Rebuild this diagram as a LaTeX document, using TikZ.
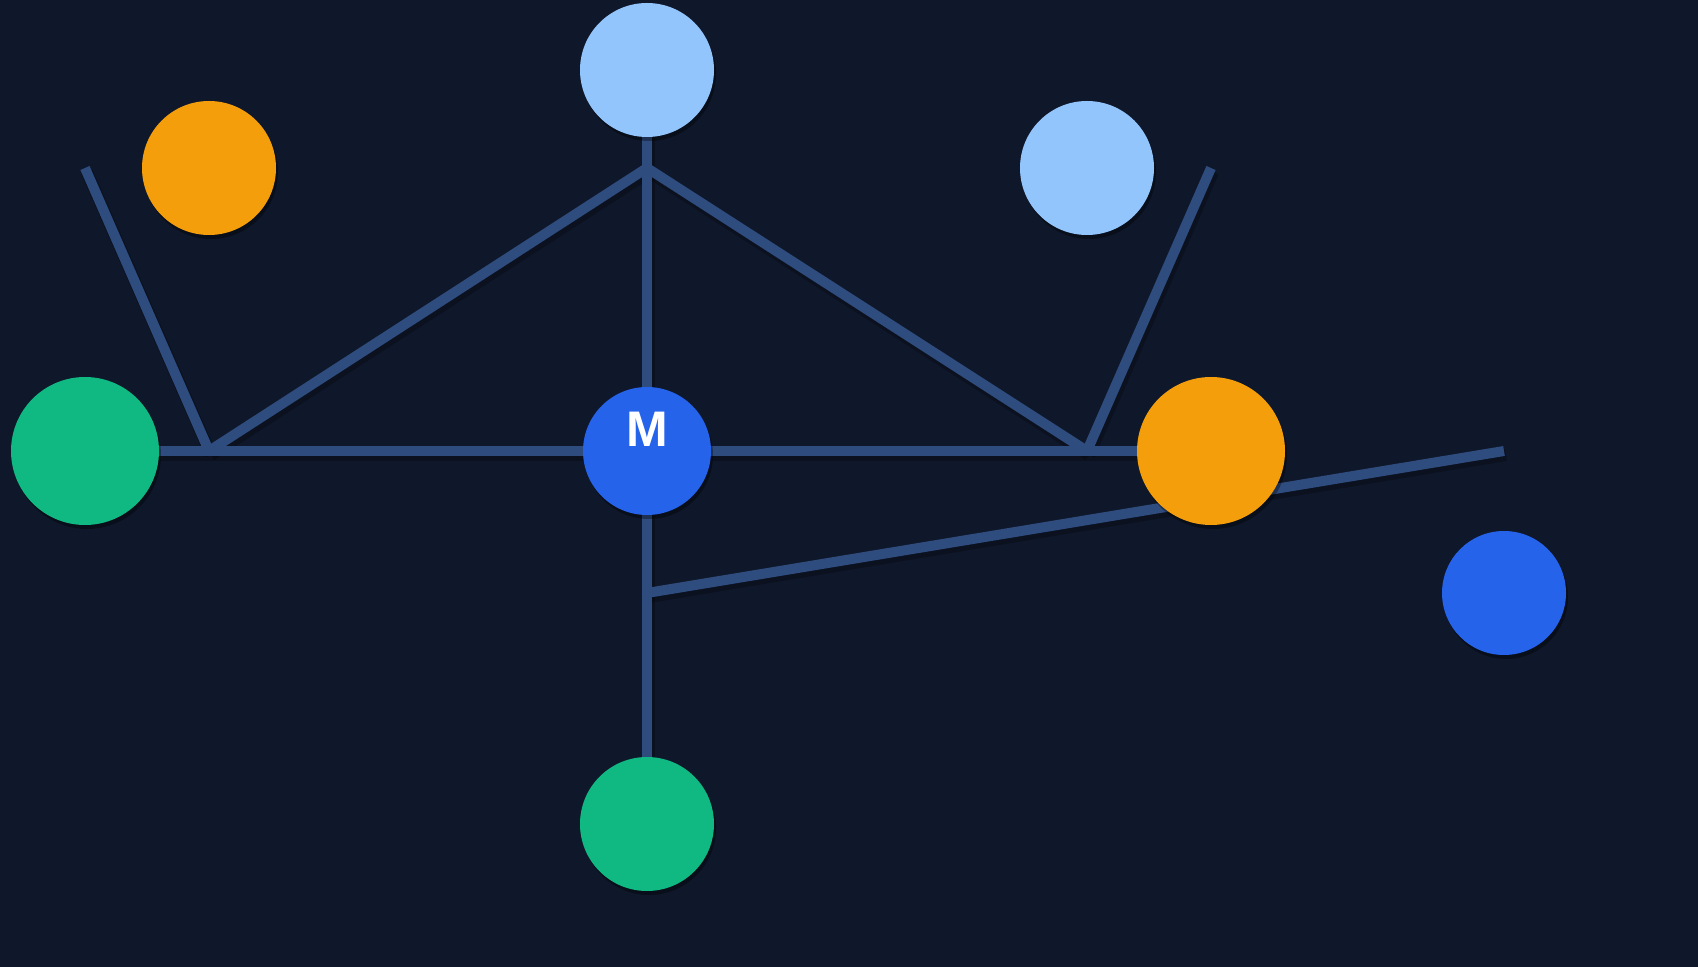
\documentclass[tikz,border=0pt]{standalone}
\usepackage{fontspec}
\setsansfont{Liberation Sans}
\usetikzlibrary{backgrounds,shadows}
\definecolor{bgc}{HTML}{0F172A}
\definecolor{edgec}{HTML}{2F4C7E}
\definecolor{lblue}{HTML}{93C5FD}
\definecolor{orng}{HTML}{F59E0B}
\definecolor{grn}{HTML}{10B981}
\definecolor{blu}{HTML}{2563EB}
\pgfdeclarelayer{edges}
\pgfsetlayers{background,edges,main}
\tikzset{
  dot/.style={circle,draw=none,inner sep=0pt,drop shadow={shadow xshift=1pt,shadow yshift=-2pt,opacity=0.35,fill=black}},
  conn/.style={draw=edgec,line width=5pt},
  connshadow/.style={draw=black,opacity=0.25,line width=6pt},
}
\begin{document}
\begin{tikzpicture}[x=0.5pt,y=-0.5pt]
\begin{pgfonlayer}{background}
\fill[bgc] (0,0) rectangle (1698,967);
\end{pgfonlayer}
\useasboundingbox (0,0) rectangle (1698,967);
% nodes
\node[dot,fill=lblue,minimum size=67pt] (top) at (647,70) {};
\node[dot,fill=orng,minimum size=67pt] (otl) at (209,168) {};
\node[dot,fill=lblue,minimum size=67pt] (lbr) at (1087,168) {};
\node[dot,fill=grn,minimum size=74pt] (gl) at (85,451) {};
\node[dot,fill=blu,minimum size=64pt] (m) at (647,451) {};
\node[font=\sffamily\bfseries\fontsize{25pt}{25pt}\selectfont,text=white,inner sep=0pt] (mlab) at (647,429) {M};
\node[dot,fill=orng,minimum size=74pt] (or) at (1211,451) {};
\node[dot,fill=blu,minimum size=62pt] (br) at (1504,593) {};
\node[dot,fill=grn,minimum size=67pt] (gb) at (647,824) {};
% junctions
\coordinate (jl) at (209,451);
\coordinate (jr) at (1087,451);
\coordinate (jt) at (647,168);
\coordinate (jb) at (647,593);
\coordinate (el) at (85,168);
\coordinate (er) at (1211,168);
\coordinate (ef) at (1504,451);
\begin{pgfonlayer}{edges}
\foreach \s/\t in {top.center/gb.center, gl.center/or.center, jl/jt, jt/jr, el/jl, er/jr, jb/ef}{
  \draw[connshadow,transform canvas={xshift=1pt,yshift=-2pt}] (\s) -- (\t);
}
\draw[conn] (top.center) -- (gb.center);
\draw[conn] (gl.center) -- (or.center);
\draw[conn] (jl) -- (jt);
\draw[conn] (jt) -- (jr);
\draw[conn] (el) -- (jl);
\draw[conn] (er) -- (jr);
\draw[conn] (jb) -- (ef);
\end{pgfonlayer}
\end{tikzpicture}
\end{document}
